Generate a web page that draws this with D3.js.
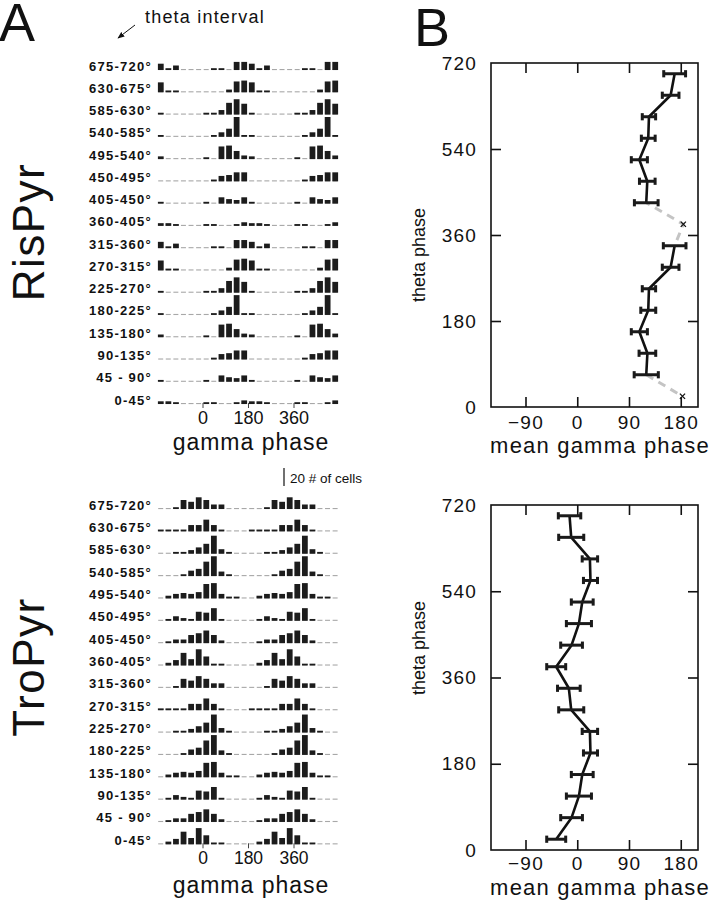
<!DOCTYPE html>
<html><head><meta charset="utf-8">
<script src="https://cdn.jsdelivr.net/npm/d3@7"></script>
<style>
body{margin:0;background:#fff}
svg{display:block}
text{font-family:"Liberation Sans",Arial,Helvetica,sans-serif;fill:#111}
</style>
</head><body><svg id="c" width="718" height="900"></svg>
<script>
// ---------- DATA ----------
const thetaLabels = ["0-45°","45 - 90°","90-135°","135-180°","180-225°","225-270°","270-315°","315-360°",
  "360-405°","405-450°","450-495°","495-540°","540-585°","585-630°","630-675°","675-720°"];
const phaseBinStarts = [-180,-150,-120,-90,-60,-30,0,30,60,90,120,150];
const phaseCopies = [0, 360];
const histTicks = [0, 180, 360];

// RisPyr: rows from 0-45° (bottom) to 675-720° (top), 12 bins of 30°
const risPyrCounts = [
  [3,3,2,0,0,0,2,2,0,0,2,4],
  [2,0,0,0,0,0,2,0,7,5,4,7],
  [0,0,0,0,0,0,0,2,6,7,10,10],
  [3,0,0,0,0,0,2,0,14,15,9,4],
  [2,0,0,0,0,0,0,2,5,9,22,2],
  [2,0,0,0,0,0,2,2,5,13,17,12],
  [11,2,2,0,0,0,0,0,0,3,12,13],
  [7,2,5,0,0,0,0,2,2,0,9,9],
  [3,3,2,0,0,0,2,2,0,0,2,4],
  [2,0,0,0,0,0,2,0,7,5,4,7],
  [0,0,0,0,0,0,0,2,6,7,10,10],
  [3,0,0,0,0,0,2,0,14,15,9,4],
  [2,0,0,0,0,0,0,2,5,9,22,2],
  [2,0,0,0,0,0,2,2,5,13,17,12],
  [11,2,2,0,0,0,0,0,0,3,12,13],
  [7,2,5,0,0,0,0,2,2,0,9,9]
];
// TroPyr
const troPyrCounts = [
  [0,3,6,14,7,18,10,2,2,0,0,0],
  [0,2,4,4,9,11,14,9,3,0,0,0],
  [0,2,5,3,2,10,9,14,2,0,0,0],
  [0,3,5,6,5,7,16,17,5,2,2,0],
  [0,0,0,2,6,8,16,22,5,2,0,0],
  [0,0,2,2,4,7,11,20,5,2,0,0],
  [2,2,2,2,7,7,13,7,2,0,0,0],
  [0,0,2,10,8,13,10,5,5,0,0,0],
  [0,3,6,14,7,18,10,2,2,0,0,0],
  [0,2,4,4,9,11,14,9,3,0,0,0],
  [0,2,5,3,2,10,9,14,2,0,0,0],
  [0,3,5,6,5,7,16,17,5,2,2,0],
  [0,0,0,2,6,8,16,22,5,2,0,0],
  [0,0,2,2,4,7,11,20,5,2,0,0],
  [2,2,2,2,7,7,13,7,2,0,0,0],
  [0,0,2,10,8,13,10,5,5,0,0,0]
];

const thetaCenters = [22.5,67.5,112.5,157.5,202.5,247.5,292.5,337.5,382.5,427.5,472.5,517.5,562.5,607.5,652.5,697.5];
// RisPyr mean gamma phase (null err = no error bar, marked with x)
const risMean = [183,120,122,108,123.5,124.7,162.4,169.4,184.5,120,121.8,108,123.5,124.7,162.4,169.4];
const risErr  = [null,21,14.5,14,13,11.6,14.5,19.7,null,20.6,13.6,14,12,11.6,14.5,19];
const troMean = [-36.6,-9.9,2.9,8.7,23,22,-10.5,-14.6,-36.6,-9.9,2.9,8.7,23,22,-10.5,-13.4];
const troErr  = [16.5,18.9,21.8,19,12.2,13.4,21.8,19.7,16.5,18.9,21.8,19,12.2,13.4,21.8,19.5];
const bYTicks = [0,180,360,540,720];
const bXTicks = [-90,0,90,180];

// ---------- DRAW ----------
const svg = d3.select("#c");
const font = '"Liberation Sans",Arial,Helvetica,sans-serif';

// Big letters
svg.append("text").attr("x",-1).attr("y",41).attr("font-size",54).text("A");
svg.append("text").attr("x",414).attr("y",46).attr("font-size",54).text("B");

// theta interval annotation
svg.append("text").attr("x",145).attr("y",23).attr("font-size",18).attr("letter-spacing",1.2).text("theta interval");
const defs = svg.append("defs");
defs.append("marker").attr("id","ah").attr("viewBox","0 0 10 10").attr("refX",9).attr("refY",5)
  .attr("markerWidth",7).attr("markerHeight",7).attr("orient","auto")
  .append("path").attr("d","M0,1 L10,5 L0,9 Z").attr("fill","#111");
svg.append("line").attr("x1",135).attr("y1",25).attr("x2",118).attr("y2",38)
  .attr("stroke","#111").attr("stroke-width",1).attr("marker-end","url(#ah)");

// Row titles
svg.append("text").attr("transform","translate(44,232) rotate(-90)").attr("text-anchor","middle")
  .attr("font-size",44).attr("letter-spacing",1.5).text("RisPyr");
svg.append("text").attr("transform","translate(44,667) rotate(-90)").attr("text-anchor","middle")
  .attr("font-size",44).attr("letter-spacing",1.5).text("TroPyr");

const xh = d3.scaleLinear().domain([-180,540]).range([157,339]);
const hh = d3.scaleLinear().domain([0,20]).range([0,18]);
const binW = xh(30) - xh(0);

function drawHist(counts, base0, base15, tickFont, labelY) {
  const yRow = d3.scaleLinear().domain([0,15]).range([base0, base15]);
  const g = svg.append("g");
  counts.forEach((row, k) => {
    const yb = yRow(k);
    g.append("text").attr("x",152).attr("y",yb+0.5).attr("text-anchor","end")
      .attr("font-size",13).attr("font-weight","bold").attr("letter-spacing",1.25)
      .text(thetaLabels[k]);
    phaseCopies.forEach(off => {
      row.forEach((c, i) => {
        const x0 = xh(phaseBinStarts[i] + off);
        g.append("rect").attr("x", x0+1.2).attr("y", yb-1).attr("width", binW-2.6).attr("height",1.1)
          .attr("fill","#a8a8a8");
        if (c > 0) {
          g.append("rect").attr("x", x0+0.9).attr("y", yb - hh(c)).attr("width", binW-1.8)
            .attr("height", hh(c)).attr("fill","#1c1c1c");
        }
      });
    });
  });
  const ax = d3.axisBottom(xh).tickValues(histTicks).tickSize(5).tickPadding(3).tickFormat(d3.format("d"));
  const ag = svg.append("g").attr("transform",`translate(0,${base0-1})`).call(ax);
  ag.select(".domain").remove();
  ag.selectAll(".tick line").attr("stroke","#444");
  ag.selectAll(".tick text").attr("font-size",tickFont).attr("font-family",font).attr("fill","#111");
  svg.append("text").attr("x",251).attr("y",labelY).attr("text-anchor","middle")
    .attr("font-size",23).attr("letter-spacing",1).text("gamma phase");
}
drawHist(risPyrCounts, 404, 70, 18, 450);
drawHist(troPyrCounts, 844.3, 509, 17.5, 893);

// scale bar
svg.append("line").attr("x1",284).attr("x2",284).attr("y1",468).attr("y2",486).attr("stroke","#111").attr("stroke-width",1.2);
svg.append("text").attr("x",290).attr("y",483).attr("font-size",13.5).text("20 # of cells");

// ---------- Panel B ----------
const xb = d3.scaleLinear().domain([-150,210]).range([491,698]);

function drawB(mean, err, yTop, yBot, dashedGroups, solidGroups, xLabelY, titleCenterY, xPad) {
  const yb = d3.scaleLinear().domain([0,720]).range([yBot, yTop]);
  const g = svg.append("g");
  // frame
  g.append("rect").attr("x",xb.range()[0]).attr("y",yTop).attr("width",xb.range()[1]-xb.range()[0])
    .attr("height",yBot-yTop).attr("fill","none").attr("stroke","#111").attr("stroke-width",1.6);
  const left = d3.axisLeft(yb).tickValues(bYTicks).tickSize(-10).tickSizeOuter(0).tickPadding(14);
  const lg = g.append("g").attr("transform",`translate(${xb.range()[0]},0)`).call(left);
  const right = d3.axisRight(yb).tickValues(bYTicks).tickSize(-10).tickSizeOuter(0).tickFormat("");
  const rg = g.append("g").attr("transform",`translate(${xb.range()[1]},0)`).call(right);
  const bottom = d3.axisBottom(xb).tickValues(bXTicks).tickSize(-10).tickSizeOuter(0).tickPadding(xPad);
  const bg = g.append("g").attr("transform",`translate(0,${yBot})`).call(bottom);
  const top = d3.axisTop(xb).tickValues(bXTicks).tickSize(-10).tickSizeOuter(0).tickFormat("");
  const tg = g.append("g").attr("transform",`translate(0,${yTop})`).call(top);
  [lg,rg,bg,tg].forEach(a => {
    a.select(".domain").remove();
    a.selectAll(".tick line").attr("stroke","#111").attr("stroke-width",1.6);
    a.selectAll(".tick text").attr("font-size",19).attr("font-family",font).attr("fill","#111").attr("letter-spacing",1.2);
  });
  lg.selectAll(".tick line").filter(d => d===0 || d===720).remove();
  rg.selectAll(".tick line").filter(d => d===0 || d===720).remove();

  const pts = thetaCenters.map((t,i) => ({t, m: mean[i], e: err[i]}));
  const line = d3.line().x(d => xb(d.m)).y(d => yb(d.t));
  dashedGroups.forEach(idx => {
    g.append("path").attr("d", line(idx.map(i => pts[i]))).attr("fill","none")
      .attr("stroke","#c4c4c4").attr("stroke-width",3).attr("stroke-dasharray","8,6").attr("stroke-dashoffset",-6);
  });
  solidGroups.forEach(idx => {
    g.append("path").attr("d", line(idx.map(i => pts[i]))).attr("fill","none")
      .attr("stroke","#111").attr("stroke-width",2.6).attr("stroke-linejoin","round");
  });
  pts.forEach(p => {
    const x = xb(p.m), y = yb(p.t);
    if (p.e == null) {
      g.append("path").attr("d",`M${x-2.6},${y-2.6}L${x+2.6},${y+2.6}M${x-2.6},${y+2.6}L${x+2.6},${y-2.6}`)
        .attr("stroke","#111").attr("stroke-width",1.3);
    } else {
      const x1 = xb(p.m - p.e), x2 = xb(p.m + p.e);
      g.append("line").attr("x1",x1).attr("x2",x2).attr("y1",y).attr("y2",y).attr("stroke","#1a1a1a").attr("stroke-width",3);
      [x1,x2].forEach(xx => g.append("line").attr("x1",xx).attr("x2",xx).attr("y1",y-3.6).attr("y2",y+3.6)
        .attr("stroke","#1a1a1a").attr("stroke-width",3));
    }
  });
  svg.append("text").attr("x",600).attr("y",xLabelY).attr("text-anchor","middle")
    .attr("font-size",22).attr("letter-spacing",1.2).text("mean gamma phase");
  svg.append("text").attr("transform",`translate(425,${titleCenterY}) rotate(-90)`).attr("text-anchor","middle")
    .attr("font-size",18).text("theta phase");
}
drawB(risMean, risErr, 63, 407, [[0,1],[7,8,9]], [[1,2,3,4,5,6,7],[9,10,11,12,13,14,15]], 453, 255, 9);
drawB(troMean, troErr, 505, 850, [], [[0,1,2,3,4,5,6,7,8,9,10,11,12,13,14,15]], 895, 648, 7);
</script>
</body></html>
